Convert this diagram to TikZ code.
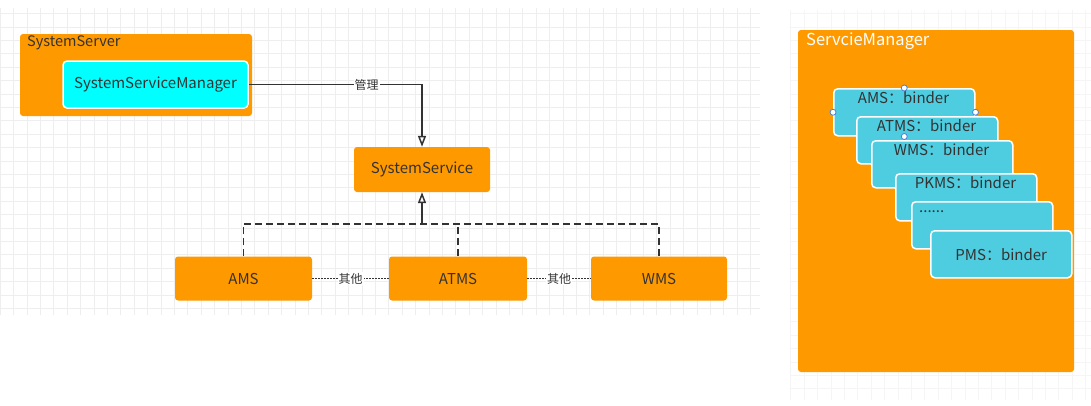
\documentclass[tikz,border=0pt]{standalone}
\usepackage{fontspec}
\setmainfont{Noto Sans CJK SC}
\usetikzlibrary{arrows.meta, positioning}
\definecolor{svcorange}{RGB}{255,153,0}
\definecolor{mgrcyan}{RGB}{0,255,255}
\definecolor{bindercyan}{RGB}{78,205,224}
\definecolor{textgray}{RGB}{51,51,51}
\definecolor{handleblue}{RGB}{70,130,220}

\begin{document}
\begin{tikzpicture}[x=1pt, y=-1pt,
  font=\fontsize{15}{18}\selectfont,
  groupbox/.style={fill=svcorange, rounded corners=3pt, inner sep=0pt},
  grouptitle/.style={anchor=west, inner sep=0pt},
  svcbox/.style={fill=svcorange, rounded corners=3pt, text=textgray, minimum width=137, minimum height=44},
  mgrbox/.style={fill=mgrcyan, draw=white, line width=1.5pt, rounded corners=4pt, text=textgray, minimum width=185, minimum height=47},
  binderbox/.style={fill=bindercyan, draw=white, line width=1.5pt, rounded corners=4pt, minimum width=141, minimum height=47, anchor=north west},
  bindertext/.style={text=textgray, inner sep=0pt},
  handle/.style={circle, fill=white, draw=handleblue, line width=0.8pt, inner sep=0pt, minimum size=6},
  relline/.style={draw=textgray, line width=1.5pt, -{Triangle[open, length=11pt, width=8pt]}},
  implline/.style={draw=textgray, line width=1.6pt, dash pattern=on 7pt off 4pt},
  otherline/.style={draw=textgray, line width=1.2pt, dash pattern=on 1.4pt off 1.6pt},
  edgelabel/.style={fill=white, text=textgray, inner sep=1pt, font=\fontsize{12}{14}\selectfont}
]
  \useasboundingbox (0,0) rectangle (1091,405);
  \fill[white] (0,0) rectangle (1091,405);

  % 背景网格
  \draw[gray!13, line width=0.5pt, step=13.4pt] (0,8) grid (760,315);
  \draw[gray!8, line width=0.5pt, step=13.4pt] (790,10) grid (1091,400);

  % 左侧: SystemServer 与服务
  \node[groupbox, minimum width=232, minimum height=82] (server) at (136,75) {};
  \node[grouptitle, text=textgray, font=\fontsize{14.5}{17}\selectfont] (servertitle) at (27,43) {SystemServer};
  \node[mgrbox] (ssm) at (155.5,84.5) {SystemServiceManager};
  \node[svcbox, minimum width=136, minimum height=45] (ss) at (422,169.5) {SystemService};

  \node[svcbox] (ams) at (243.5,278.5) {AMS};
  \node[svcbox, minimum width=138] (atms) at (458,278.5) {ATMS};
  \node[svcbox, minimum width=136] (wms) at (659,278.5) {WMS};

  % 管理关系
  \draw[relline] (ssm.east) -| (ss.north) node[pos=0.34, edgelabel] (mgrlabel) {管理};

  % 实现关系
  \coordinate (hub) at (422,224);
  \draw[implline] (ams.north) |- (wms.north |- hub) -- (wms.north);
  \draw[implline] (atms.north) -- (atms.north |- hub);
  \draw[relline] (hub) -- (ss.south);

  % 其他服务
  \draw[otherline] (ams.east) -- (atms.west) node[midway, edgelabel] (other1) {其他};
  \draw[otherline] (atms.east) -- (wms.west) node[midway, edgelabel] (other2) {其他};

  % 右侧: ServcieManager 中的 binder
  \node[groupbox, minimum width=276, minimum height=342] (sm) at (936,201) {};
  \node[grouptitle, text=white, font=\fontsize{16.5}{19}\selectfont] (smtitle) at (806,41) {ServcieManager};

  \foreach \n/\x/\y/\t in {ams/833/88/AMS：binder, atms/856/116/ATMS：binder,
                           wms/871/140/WMS：binder, pkms/895/173/PKMS：binder} {
    \node[binderbox] (b\n) at (\x,\y) {};
    \node[bindertext] (t\n) at (\x+70.5,\y+10) {\t};
  }
  \node[binderbox] (bmore) at (911,201) {};
  \node[bindertext, anchor=west] (tmore) at (919,212) {......};
  \node[binderbox] (bpms) at (930,230) {};
  \node[bindertext] (tpms) at (bpms.center) {PMS：binder};

  % 选中句柄
  \foreach \h in {north, west, east, south}
    \node[handle] (h\h) at (bams.\h) {};
\end{tikzpicture}
\end{document}
